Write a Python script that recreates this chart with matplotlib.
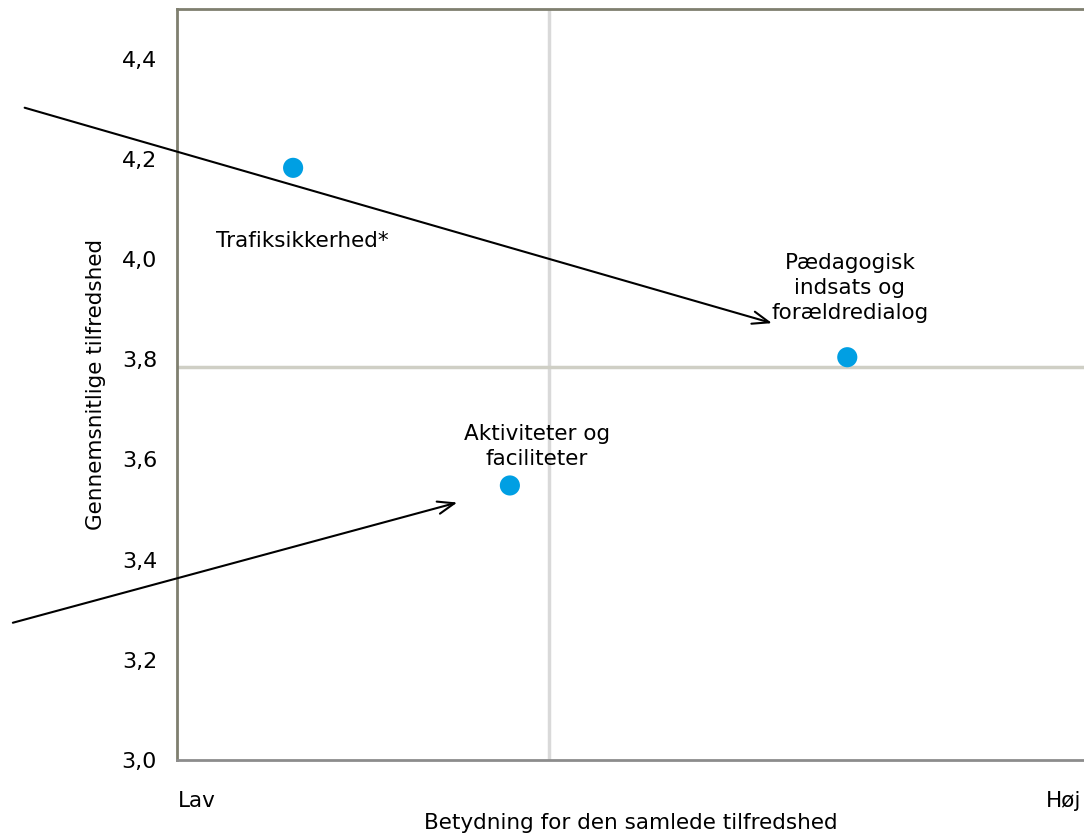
import matplotlib.pyplot as plt

# Data
labels = ['Trafiksikkerhed*', 'Aktiviteter og\nfaciliteter', 'Pædagogisk\nindsats og\nforældredialog']
betydning = [0.128, 0.367, 0.739]
tilfredshed = [4.182, 3.548, 3.804]
label_pos = [(0.138, 4.036), (0.397, 3.626), (0.742, 3.942)]

# Pile (start, slut)
arrows = [((-0.168, 4.302), (0.656, 3.872)),
          ((-0.181, 3.274), (0.309, 3.514))]

x_mid = 0.41
y_mid = 3.784
yticks = [3.0, 3.2, 3.4, 3.6, 3.8, 4.0, 4.2, 4.4]

fs = 15.5

fig = plt.figure(figsize=(10.84, 8.35), dpi=100)
ax = fig.add_axes([0.1633, 0.0898, 0.8367, 0.9])

ax.set_xlim(0, 1)
ax.set_ylim(3.0, 4.5)

# Kvadrantlinjer
ax.axvline(x_mid, color='#d9d9d9', linewidth=2.5, zorder=1)
ax.axhline(y_mid, color='#cfcfc5', linewidth=2.5, zorder=1)

ax.scatter(betydning, tilfredshed, s=210, color='#009fe3', zorder=3, edgecolors='none')

for lab, (lx, ly) in zip(labels, label_pos):
    ax.text(lx, ly, lab, ha='center', va='center', fontsize=fs, linespacing=1.3)

for (x0, y0), (x1, y1) in arrows:
    ax.annotate('', xy=(x1, y1), xytext=(x0, y0), annotation_clip=False,
                arrowprops=dict(arrowstyle='->,head_length=1.2,head_width=0.45',
                                color='black', linewidth=1.5, shrinkA=0, shrinkB=0))

ax.set_yticks(yticks)
ax.set_yticklabels([f'{v:.1f}'.replace('.', ',') for v in yticks], fontsize=16)
ax.set_xticks([])
ax.tick_params(axis='y', length=0, pad=14.4)

for s in ['left', 'top']:
    ax.spines[s].set_color('#7f7f6f')
    ax.spines[s].set_linewidth(2)
ax.spines['bottom'].set_color('#8c8c8c')
ax.spines['bottom'].set_linewidth(2)
ax.spines['right'].set_visible(False)

ax.text(0.022, -0.055, 'Lav', transform=ax.transAxes, ha='center', va='center', fontsize=fs)
ax.text(0.978, -0.055, 'Høj', transform=ax.transAxes, ha='center', va='center', fontsize=fs)

ax.set_xlabel('Betydning for den samlede tilfredshed', fontsize=fs, labelpad=38)
ax.set_ylabel('Gennemsnitlige tilfredshed', fontsize=fs, labelpad=11)

fig.savefig('out.png', dpi=100)
